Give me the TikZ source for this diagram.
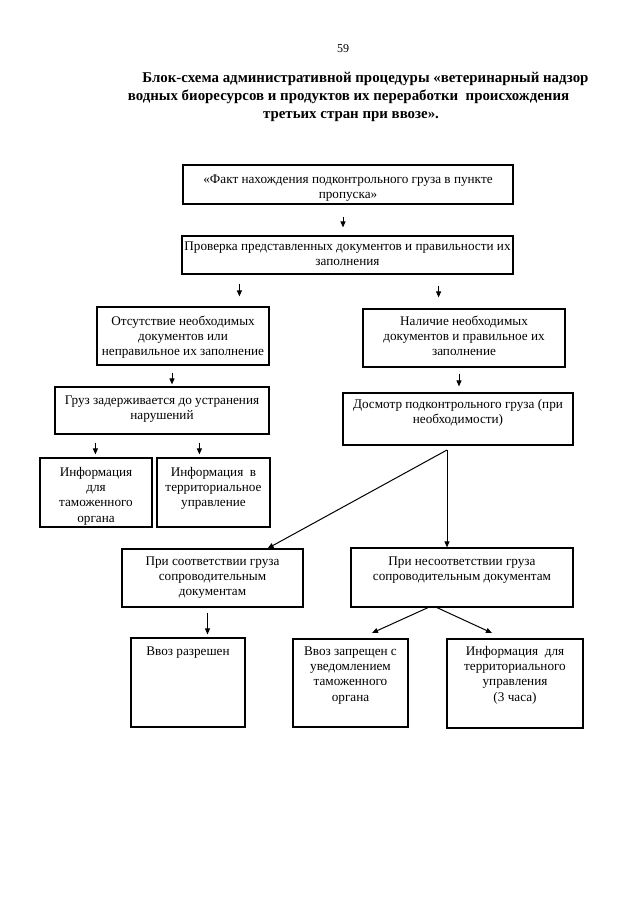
\documentclass[tikz,border=0pt]{standalone}
\usepackage{fontspec}
\setmainfont{Liberation Serif}
\usetikzlibrary{arrows.meta}
\tikzset{
  box/.style={draw, line width=1.2pt, inner sep=0pt},
  txt/.style={align=center, inner sep=0pt, font=\fontsize{13.2}{15.2}\selectfont},
  ttl/.style={anchor=base, inner sep=0pt, font=\fontsize{14.9}{17}\selectfont\bfseries},
  arr/.style={line width=1pt, -{Triangle[length=6pt,width=5pt]}},
}
\newcommand\mybox[7]{%
  \node[box, minimum width={#4-#2}, minimum height={#5-#3}] (#1) at ({(#2+#4)/2},{(#3+#5)/2}) {};
  \node[txt, anchor=north] (#1t) at ({(#2+#4)/2},{#6-7.3}) {\strut #7};
}
\begin{document}
\begin{tikzpicture}[x=1pt,y=-1pt]
\useasboundingbox (0,0) rectangle (640,905);
\fill[white] (0,0) rectangle (640,905);
\node[anchor=base, inner sep=0pt, font=\fontsize{12}{14}\selectfont] (pg) at (343,52) {59};
\node[ttl] (t1) at (365.5,82) {Блок-схема административной процедуры «ветеринарный надзор};
\node[ttl] (t2) at (348.5,100) {водных биоресурсов и продуктов их переработки\ \ происхождения};
\node[ttl] (t3) at (351,118) {третьих стран при ввозе».};

\mybox{b1}{183}{165}{513}{204}{180}{«Факт нахождения подконтрольного груза в пункте\\пропуска»}
\mybox{b2}{182}{236}{513}{274}{247}{Проверка представленных документов и правильности их\\заполнения}
\mybox{b3}{97}{307}{269}{365}{322}{Отсутствие необходимых\\документов или\\неправильное их заполнение}
\mybox{b4}{55}{387}{269}{434}{401}{Груз задерживается до устранения\\нарушений}
\mybox{b5}{40}{458}{152}{527}{473}{Информация\\для\\таможенного\\органа}
\mybox{b6}{157}{458}{270}{527}{473}{Информация\ \ в\\территориальное\\управление}
\mybox{b7}{363}{309}{565}{367}{322}{Наличие необходимых\\документов и правильное их\\заполнение}
\mybox{b8}{343}{393}{573}{445}{405}{Досмотр подконтрольного груза (при\\необходимости)}
\mybox{b9}{122}{549}{303}{607}{562}{При соответствии груза\\сопроводительным\\документам}
\mybox{b10}{351}{548}{573}{607}{562}{При несоответствии груза\\сопроводительным документам}
\mybox{b11}{131}{638}{245}{727}{652}{Ввоз разрешен}
\mybox{b12}{293}{639}{408}{727}{652}{Ввоз запрещен с\\уведомлением\\таможенного\\органа}
\mybox{b13}{447}{639}{583}{728}{652}{Информация\ \ для\\территориального\\управления\\(3 часа)}

\draw[arr, shorten <=12pt, shorten >=8pt] ([xshift=-5pt]b1.south) -- ([xshift=-5pt]b1.south |- b2.north);
\draw[arr, shorten <=9pt, shorten >=10pt] ([xshift=58pt]b2.south west) -- ([xshift=58pt]b2.south west |- b3.north);
\draw[arr, shorten <=11pt, shorten >=11pt] ([xshift=-75pt]b2.south east) -- ([xshift=-75pt]b2.south east |- b7.north);
\draw[arr, shorten <=7pt, shorten >=2pt] ([xshift=-11pt]b3.south) -- ([xshift=-11pt]b3.south |- b4.north);
\draw[arr, shorten <=8pt, shorten >=3pt] ([xshift=41pt]b4.south west) -- ([xshift=41pt]b4.south west |- b5.north);
\draw[arr, shorten <=8pt, shorten >=3pt] ([xshift=145pt]b4.south west) -- ([xshift=145pt]b4.south west |- b6.north);
\draw[arr, shorten <=6pt, shorten >=6pt] ([xshift=-5pt]b7.south) -- ([xshift=-5pt]b7.south |- b8.north);
\coordinate (br) at (447,450);
\draw[arr] (br) -- ([xshift=-36pt]b9.north east);
\draw[arr] (br) -- (br |- b10.north);
\draw[arr, shorten <=5pt, shorten >=3pt] ([xshift=-5pt]b9.south) -- ([xshift=-5pt]b9.south |- b11.north);
\coordinate (tipl) at (372,633);
\coordinate (tipr) at (492,633);
\draw[arr] ([xshift=-34pt]b10.south) -- (tipl);
\draw[arr] ([xshift=-25pt]b10.south) -- (tipr);
\end{tikzpicture}
\end{document}
